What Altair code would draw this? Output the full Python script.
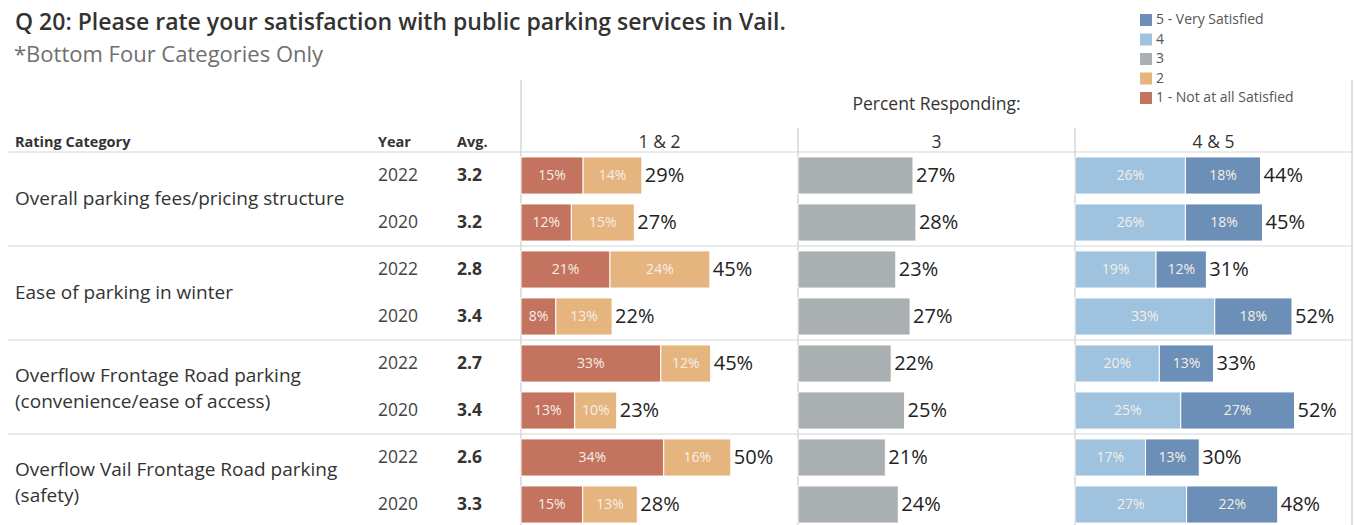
import altair as alt
import pandas as pd

# ---------------- data ----------------
categories = [
    "Overall parking fees/pricing structure",
    "Ease of parking in winter",
    "Overflow Frontage Road parking\n(convenience/ease of access)",
    "Overflow Vail Frontage Road parking\n(safety)",
]
years = ["2022", "2020"]
avg_scores = [3.2, 3.2, 2.8, 3.4, 2.7, 3.4, 2.6, 3.3]

ratings = ["1 - Not at all Satisfied", "2", "3", "4", "5 - Very Satisfied"]
rating_colors = ["#c4735f", "#e6b47f", "#aab0b1", "#9fc2df", "#6b8fb6"]
panel_of_rating = ["1 & 2", "1 & 2", "3", "4 & 5", "4 & 5"]

# percent responding per row (rows: category x year, 2022 first)
pct_1 = [14.8, 12.0, 21.2, 8.3, 33.3, 12.8, 34.0, 14.7]
pct_2 = [14.0, 15.0, 23.8, 13.4, 11.9, 10.0, 16.0, 13.0]
pct_3 = [27.4, 28.1, 23.3, 26.7, 22.2, 25.4, 20.8, 23.9]
pct_4 = [26.3, 26.3, 19.3, 33.3, 20.1, 25.2, 16.8, 26.6]
pct_5 = [17.9, 18.4, 12.0, 18.4, 12.9, 27.1, 12.8, 21.7]
series = [pct_1, pct_2, pct_3, pct_4, pct_5]

title_text = ["Q 20: Please rate your satisfaction with public parking services in Vail."]
subtitle_text = ["*Bottom Four Categories Only"]

# ---------------- tables ----------------
n_rows = len(avg_scores)
row_keys = [f"r{i}" for i in range(n_rows)]
rows_df = pd.DataFrame({
    "rowkey": row_keys,
    "category": [categories[i // 2] for i in range(n_rows)],
    "year": [years[i % 2] for i in range(n_rows)],
    "avg": [f"{v:.1f}" for v in avg_scores],
    "group_start": [i % 2 == 0 for i in range(n_rows)],
})
bars_df = pd.DataFrame([
    {"rowkey": row_keys[i], "rating": ratings[j], "order": j,
     "value": series[j][i], "panel": panel_of_rating[j]}
    for i in range(n_rows) for j in range(len(ratings))
])

FONT = "Open Sans"
W_LEFT = 521
W_PANEL = 277
H = 376
X_MAX = 66
GRID = "#e3e3e3"
VLINE = "#d6d6d6"
HEAD_Y = -9

yscale = alt.Scale(type="band", domain=row_keys, paddingInner=0, paddingOuter=0)
xscale = alt.Scale(domain=[0, X_MAX], nice=False, zero=True)


def Y(**kw):
    return alt.Y("rowkey:N", scale=yscale, axis=None, **kw)


def const_text(txt, x, y, **mk):
    return alt.Chart(pd.DataFrame({"t": txt})).mark_text(font=FONT, **mk).encode(
        x=alt.value(x), y=alt.value(y), text="t:N")


group_starts = alt.Chart(rows_df).transform_filter("datum.group_start")

# ---------------- left table panel ----------------
spacer = alt.Chart(pd.DataFrame({"a": [0]})).mark_rect(color="white").encode(
    x=alt.value(0), x2=alt.value(4), y=alt.value(-152), y2=alt.value(-150))
title = const_text(title_text, 15, 23 - 152, align="left", baseline="middle",
                   fontSize=23, fontWeight=600, color="#333333")
subtitle = const_text(subtitle_text, 14, 55 - 152, align="left", baseline="middle",
                      fontSize=22, color="#6f6f6f")
h_cat = const_text(["Rating Category"], 15, HEAD_Y, align="left", baseline="middle",
                   fontSize=14.5, fontWeight="bold", color="#333333")
h_year = const_text(["Year"], 378, HEAD_Y, align="left", baseline="middle",
                    fontSize=14.5, fontWeight="bold", color="#333333")
h_avg = const_text(["Avg."], 457, HEAD_Y, align="left", baseline="middle",
                   fontSize=14.5, fontWeight="bold", color="#333333")
left_rules = group_starts.mark_rule(color=GRID, strokeWidth=1.5).encode(
    y=Y(bandPosition=0), x=alt.value(8), x2=alt.value(W_LEFT))

cat_base = alt.Chart(rows_df).transform_filter("!datum.group_start")
cat_one = cat_base.transform_filter("indexof(datum.category, '\\n') < 0").mark_text(
    font=FONT, align="left", baseline="middle", fontSize=19,
    color="#333333").encode(y=Y(bandPosition=0), x=alt.value(15), text="category:N")
cat_two = cat_base.transform_filter("indexof(datum.category, '\\n') >= 0").mark_text(
    font=FONT, align="left", baseline="middle", lineBreak="\n", fontSize=19,
    lineHeight=26, dy=-11, color="#333333").encode(
    y=Y(bandPosition=0), x=alt.value(15), text="category:N")
year_text = alt.Chart(rows_df).mark_text(
    font=FONT, align="left", baseline="middle", fontSize=17.5, color="#444444").encode(
    y=Y(), x=alt.value(378), text="year:N")
avg_text = alt.Chart(rows_df).mark_text(
    font=FONT, align="left", baseline="middle", fontSize=17.5, fontWeight="bold",
    color="#333333").encode(y=Y(), x=alt.value(457), text="avg:N")

left = alt.layer(spacer, title, subtitle, h_cat, h_year, h_avg, left_rules,
                 cat_one, cat_two, year_text, avg_text).properties(width=W_LEFT, height=H)


# ---------------- bar panels ----------------
def panel(pname, inner_labels, vtop, extra=None):
    base = alt.Chart(bars_df).transform_filter(alt.datum.panel == pname)
    stacked = base.transform_stack(
        stack="value", groupby=["rowkey"], as_=["x0", "x1"],
        sort=[alt.SortField("order", order="ascending")]
    ).transform_calculate(
        mid="(datum.x0 + datum.x1) / 2",
        lab="format(datum.value, '.0f') + '%'")
    bars = stacked.mark_bar(stroke="white", strokeWidth=1,
                            height=alt.RelativeBandSize(0.79)).encode(
        x=alt.X("x0:Q", scale=xscale, axis=None), x2="x1:Q", y=Y(),
        color=alt.Color("rating:N",
                        scale=alt.Scale(domain=ratings[::-1], range=rating_colors[::-1]),
                        legend=alt.Legend(title=None, orient="none", legendX=1139,
                                          legendY=-139, symbolType="square",
                                          symbolSize=144, symbolStrokeWidth=0,
                                          labelFontSize=14, labelColor="#555555",
                                          labelFont=FONT, rowPadding=5.5,
                                          labelOffset=3, padding=0)))
    totals = base.transform_aggregate(total="sum(value)", groupby=["rowkey"]).transform_calculate(
        lab="format(datum.total, '.0f') + '%'").mark_text(
        font=FONT, align="left", baseline="middle", dx=3, fontSize=20,
        color="#222222").encode(x=alt.X("total:Q", scale=xscale, axis=None), y=Y(),
                                text="lab:N")
    rules = group_starts.mark_rule(color=GRID, strokeWidth=1.5).encode(y=Y(bandPosition=0))
    vline = alt.Chart(pd.DataFrame({"a": [0]})).mark_rule(color=VLINE, strokeWidth=1.5).encode(
        x=alt.value(0), y=alt.value(vtop), y2=alt.value(H))
    header = const_text([pname], W_PANEL / 2, HEAD_Y, align="center", baseline="middle",
                        fontSize=17.5, color="#333333")
    layers = [rules, vline, bars, totals, header]
    if inner_labels:
        layers.append(stacked.mark_text(font=FONT, align="center", baseline="middle",
                                        fontSize=14, color="#f4efe6").encode(
            x=alt.X("mid:Q", scale=xscale, axis=None), y=Y(), text="lab:N"))
    if extra:
        layers.extend(extra)
    return alt.layer(*layers).properties(width=W_PANEL, height=H)


pr_text = const_text(["Percent Responding:"], W_PANEL / 2, 105 - 152, align="center",
                     baseline="middle", fontSize=17.5, color="#333333")
right_line = alt.Chart(pd.DataFrame({"a": [0]})).mark_rule(color=VLINE, strokeWidth=1.5).encode(
    x=alt.value(W_PANEL), y=alt.value(80 - 152), y2=alt.value(H))

p1 = panel("1 & 2", True, 80 - 152)
p2 = panel("3", False, 128 - 152, extra=[pr_text])
p3 = panel("4 & 5", True, 128 - 152, extra=[right_line])

chart = alt.hconcat(left, p1, p2, p3, spacing=0, bounds="flush").properties(
    padding=0
).configure_view(stroke=None)

chart.save("out.html", embed_options={"renderer": "svg", "actions": False})
